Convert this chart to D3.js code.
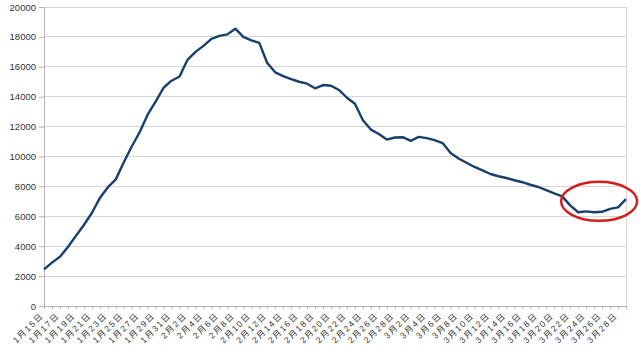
<!DOCTYPE html>
<html>
<head>
<meta charset="utf-8">
<script src="https://cdn.jsdelivr.net/npm/d3@7/dist/d3.min.js"></script>
<style>
  html, body { margin: 0; padding: 0; background: #fff; }
  svg { display: block; }
  text { font-family: "Liberation Sans", "Noto Sans CJK JP", sans-serif; fill: #333; }
</style>
</head>
<body>
<svg id="chart" width="640" height="359"></svg>
<script>
const categories = [
  "1月15日","1月16日","1月17日","1月18日","1月19日","1月20日","1月21日","1月22日","1月23日","1月24日",
  "1月25日","1月26日","1月27日","1月28日","1月29日","1月30日","1月31日",
  "2月1日","2月2日","2月3日","2月4日","2月5日","2月6日","2月7日","2月8日","2月9日","2月10日",
  "2月11日","2月12日","2月13日","2月14日","2月15日","2月16日","2月17日","2月18日","2月19日","2月20日",
  "2月21日","2月22日","2月23日","2月24日","2月25日","2月26日","2月27日","2月28日",
  "3月1日","3月2日","3月3日","3月4日","3月5日","3月6日","3月7日","3月8日","3月9日","3月10日",
  "3月11日","3月12日","3月13日","3月14日","3月15日","3月16日","3月17日","3月18日","3月19日","3月20日",
  "3月21日","3月22日","3月23日","3月24日","3月25日","3月26日","3月27日","3月28日","3月29日"
];
const values = [
  2450, 2900, 3290, 3950, 4690, 5420, 6220, 7220, 7930, 8470,
  9600, 10670, 11620, 12800, 13670, 14600, 15070,
  15350, 16470, 17000, 17400, 17870, 18070, 18170, 18550, 18000, 17770,
  17600, 16250, 15630, 15380, 15170, 15000, 14870, 14560, 14780, 14730,
  14450, 13930, 13530, 12430, 11800, 11500, 11130, 11270,
  11290, 11050, 11310, 11230, 11090, 10900, 10230, 9870, 9580, 9300,
  9070, 8830, 8680, 8560, 8410, 8280, 8110, 7960, 7750, 7530,
  7330, 6730, 6270, 6330, 6270, 6300, 6500, 6600, 7150
];
const yTicks = [0, 2000, 4000, 6000, 8000, 10000, 12000, 14000, 16000, 18000, 20000];
const highlight = { from: "3月21日", to: "3月29日", value: 7000 };

const svg = d3.select("#chart");
const mLeft = 44, mRight = 626, mTop = 7, mBottom = 306;

const x = d3.scalePoint().domain(categories).range([mLeft, mRight]);
const y = d3.scaleLinear().domain([0, 20000]).range([mBottom, mTop]);

// gridlines
svg.append("g")
  .selectAll("line")
  .data(yTicks)
  .join("line")
  .attr("x1", mLeft).attr("x2", mRight)
  .attr("y1", d => y(d)).attr("y2", d => y(d))
  .attr("stroke", "#d6d6d6").attr("stroke-width", 1)
  .attr("shape-rendering", "crispEdges");

// right border
svg.append("line")
  .attr("x1", mRight).attr("x2", mRight).attr("y1", mTop).attr("y2", mBottom + 3)
  .attr("stroke", "#d6d6d6").attr("shape-rendering", "crispEdges");

// y axis
const yAxis = svg.append("g")
  .attr("transform", `translate(${mLeft},0)`)
  .call(d3.axisLeft(y).tickValues(yTicks).tickSize(5).tickPadding(3).tickFormat(d3.format("d")));
yAxis.select(".domain").attr("stroke", "#b3b3b3");
yAxis.selectAll(".tick line").attr("stroke", "#b3b3b3");
yAxis.selectAll("text").attr("font-size", "9.5px").attr("fill", "#333")
  .attr("font-family", "Liberation Sans, sans-serif");

// x axis
const xAxis = svg.append("g")
  .attr("transform", `translate(0,${mBottom})`)
  .call(d3.axisBottom(x).tickSize(3).tickSizeOuter(0).tickFormat(""));
xAxis.select(".domain").attr("stroke", "#b3b3b3");
xAxis.selectAll(".tick line").attr("stroke", "#b3b3b3");

// x labels (every second category)
svg.append("g")
  .selectAll("text")
  .data(categories.filter((d, i) => i % 2 === 0))
  .join("text")
  .attr("transform", d => `translate(${x(d) - 2},${mBottom + 8}) rotate(-45)`)
  .attr("text-anchor", "end")
  .attr("dy", "0.35em")
  .attr("font-size", "8.5px")
  .attr("letter-spacing", "1.6px")
  .attr("fill", "#444")
  .text(d => d);

// line
svg.append("path")
  .datum(values)
  .attr("fill", "none")
  .attr("stroke", "#17406d")
  .attr("stroke-width", 2.4)
  .attr("stroke-linejoin", "round")
  .attr("d", d3.line().x((d, i) => x(categories[i])).y(d => y(d)));

// highlight ellipse
const cx = (x(highlight.from) + x(highlight.to)) / 2 + 5;
svg.append("ellipse")
  .attr("cx", cx)
  .attr("cy", y(highlight.value))
  .attr("rx", 38)
  .attr("ry", 19.5)
  .attr("fill", "none")
  .attr("stroke", "#d41f1f")
  .attr("stroke-width", 2.5);
</script>
</body>
</html>
